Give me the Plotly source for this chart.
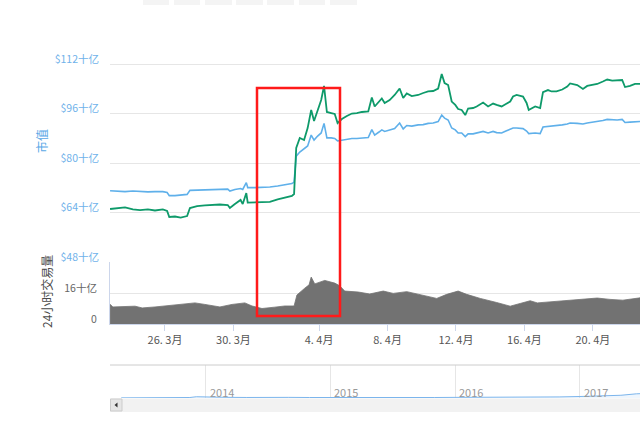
import plotly.graph_objects as go

# ---------------- data ----------------
times = [
    "2019-03-22 19:00", "2019-03-23 06:00", "2019-03-23 16:00", "2019-03-24 03:00", "2019-03-24 13:00",
    "2019-03-25 00:00", "2019-03-25 10:00", "2019-03-25 21:00", "2019-03-26 03:00", "2019-03-26 06:00",
    "2019-03-26 14:00", "2019-03-26 22:00", "2019-03-27 07:00", "2019-03-27 11:00", "2019-03-27 21:00",
    "2019-03-28 08:00", "2019-03-28 18:00", "2019-03-29 05:00", "2019-03-29 16:00", "2019-03-29 19:00",
    "2019-03-30 02:00", "2019-03-30 10:00", "2019-03-30 13:00", "2019-03-30 18:00", "2019-03-30 20:00",
    "2019-03-31 06:00", "2019-03-31 16:00", "2019-04-01 03:00", "2019-04-01 14:00", "2019-04-02 00:00",
    "2019-04-02 10:00", "2019-04-02 13:00", "2019-04-02 16:00", "2019-04-02 21:00", "2019-04-03 03:00",
    "2019-04-03 08:00", "2019-04-03 13:00", "2019-04-03 17:00", "2019-04-03 22:00", "2019-04-04 03:00",
    "2019-04-04 07:00", "2019-04-04 11:00", "2019-04-04 17:00", "2019-04-04 22:00", "2019-04-05 02:00",
    "2019-04-05 08:00", "2019-04-05 15:00", "2019-04-05 22:00", "2019-04-06 05:00", "2019-04-06 12:00",
    "2019-04-06 21:00", "2019-04-07 02:00", "2019-04-07 06:00", "2019-04-07 12:00", "2019-04-07 16:00",
    "2019-04-07 20:00", "2019-04-08 03:00", "2019-04-08 10:00", "2019-04-08 17:00", "2019-04-08 22:00",
    "2019-04-09 03:00", "2019-04-09 10:00", "2019-04-09 19:00", "2019-04-10 02:00", "2019-04-10 09:00",
    "2019-04-10 16:00", "2019-04-10 23:00", "2019-04-11 04:00", "2019-04-11 08:00", "2019-04-11 13:00",
    "2019-04-11 18:00", "2019-04-11 23:00", "2019-04-12 03:00", "2019-04-12 08:00", "2019-04-12 13:00",
    "2019-04-12 17:00", "2019-04-13 00:00", "2019-04-13 05:00", "2019-04-13 14:00", "2019-04-13 21:00",
    "2019-04-14 04:00", "2019-04-14 09:00", "2019-04-14 16:00", "2019-04-14 22:00", "2019-04-15 04:00",
    "2019-04-15 08:00", "2019-04-15 13:00", "2019-04-15 22:00", "2019-04-16 03:00", "2019-04-16 06:00",
    "2019-04-16 15:00", "2019-04-16 22:00", "2019-04-17 02:00", "2019-04-17 09:00", "2019-04-17 14:00",
    "2019-04-17 21:00", "2019-04-18 05:00", "2019-04-18 12:00", "2019-04-18 16:00", "2019-04-19 02:00",
    "2019-04-19 10:00", "2019-04-19 16:00", "2019-04-19 23:00", "2019-04-20 06:00", "2019-04-20 14:00",
    "2019-04-20 20:00", "2019-04-21 03:00", "2019-04-21 10:00", "2019-04-21 17:00", "2019-04-21 21:00",
    "2019-04-22 04:00", "2019-04-22 11:00", "2019-04-22 18:00",
]

# market cap, billions USD (blue, left axis)
market_cap = [
    71.1, 71.0, 70.8, 71.0, 70.8, 70.7, 70.8, 70.8, 70.5, 69.5,
    69.5, 69.7, 69.9, 71.2, 71.3, 71.3, 71.5, 71.5, 71.6, 71.0,
    71.5, 71.8, 71.5, 73.7, 72.1, 72.1, 72.1, 72.3, 72.6, 72.9,
    73.4, 73.9, 82.3, 83.6, 84.6, 85.6, 89.1, 87.5, 88.8, 89.8,
    92.9, 88.2, 88.2, 88.0, 87.2, 87.4, 87.8, 88.0, 88.0, 88.2,
    88.3, 90.9, 89.1, 90.1, 90.8, 90.3, 90.8, 91.2, 93.0, 91.1,
    92.2, 92.0, 92.4, 92.5, 92.9, 93.0, 93.5, 95.6, 94.6, 94.0,
    91.4, 90.8, 89.8, 89.8, 88.6, 89.5, 89.5, 89.8, 90.3, 89.8,
    90.3, 89.9, 89.8, 90.4, 91.1, 91.4, 91.4, 91.2, 90.4, 89.6,
    89.8, 89.6, 91.7, 91.9, 91.9, 92.0, 92.4, 92.7, 93.0, 92.9,
    92.7, 93.0, 93.2, 93.5, 93.8, 94.2, 94.0, 94.0, 94.2, 93.2,
    93.3, 93.5, 93.5,
]

# price USD (green, hidden right axis)
price_usd = [
    3958, 3968, 3974, 3953, 3947, 3953, 3942, 3953, 3937, 3874,
    3879, 3868, 3884, 3968, 3989, 3995, 4000, 4005, 4000, 3968,
    4010, 4053, 4010, 4126, 4026, 4026, 4026, 4032, 4058, 4074,
    4095, 4116, 4600, 4705, 4684, 4810, 5000, 4884, 5000, 5105,
    5253, 4979, 4968, 4958, 4863, 4905, 4937, 4963, 4968, 4979,
    4984, 5132, 5037, 5084, 5121, 5074, 5105, 5158, 5226, 5126,
    5174, 5147, 5158, 5179, 5195, 5200, 5226, 5379, 5284, 5263,
    5089, 5053, 5010, 5000, 4947, 5016, 5021, 5037, 5079, 5037,
    5068, 5053, 5037, 5063, 5089, 5142, 5158, 5142, 5074, 5000,
    5037, 5021, 5189, 5210, 5195, 5195, 5216, 5247, 5279, 5263,
    5221, 5253, 5263, 5274, 5300, 5321, 5310, 5310, 5316, 5242,
    5253, 5274, 5274,
]

vol_times = [
    "2019-03-22 19:00", "2019-03-22 23:00", "2019-03-24 06:00", "2019-03-24 16:00", "2019-03-25 10:00",
    "2019-03-26 10:00", "2019-03-27 04:00", "2019-03-27 18:00", "2019-03-28 08:00", "2019-03-29 05:00",
    "2019-03-29 22:00", "2019-03-30 16:00", "2019-03-31 02:00", "2019-03-31 16:00", "2019-04-01 10:00",
    "2019-04-02 00:00", "2019-04-02 13:00", "2019-04-02 17:00", "2019-04-03 04:00", "2019-04-03 10:00",
    "2019-04-03 13:00", "2019-04-03 18:00", "2019-04-04 08:00", "2019-04-04 22:00", "2019-04-05 05:00",
    "2019-04-05 12:00", "2019-04-06 07:00", "2019-04-06 23:00", "2019-04-07 18:00", "2019-04-08 08:00",
    "2019-04-09 03:00", "2019-04-09 17:00", "2019-04-10 21:00", "2019-04-11 11:00", "2019-04-12 03:00",
    "2019-04-12 15:00", "2019-04-13 10:00", "2019-04-14 09:00", "2019-04-15 04:00", "2019-04-15 18:00",
    "2019-04-16 08:00", "2019-04-16 18:00", "2019-04-17 21:00", "2019-04-19 02:00", "2019-04-20 06:00",
    "2019-04-21 00:00", "2019-04-21 18:00", "2019-04-22 18:00",
]
# 24h volume, billions USD
volume = [
    10.2, 8.8, 9.2, 8.3, 8.8,
    9.7, 10.6, 10.9, 10.1, 8.8,
    10.1, 10.9, 9.3, 8.0, 8.7,
    9.3, 9.3, 15.0, 18.5, 20.2,
    24.2, 20.7, 22.5, 21.1, 19.7,
    17.0, 16.5, 15.5, 17.0, 15.8,
    16.7, 15.5, 13.2, 15.3, 17.0,
    15.3, 13.2, 11.1, 9.2, 10.6,
    12.0, 10.9, 11.6, 12.7, 13.4,
    12.7, 12.3, 13.5,
]

x_tick_dates = ["2019-03-26", "2019-03-30", "2019-04-04", "2019-04-08", "2019-04-12", "2019-04-16", "2019-04-20"]
x_tick_text = ["26. 3月", "30. 3月", "4. 4月", "8. 4月", "12. 4月", "16. 4月", "20. 4月"]

cap_ticks = [48, 64, 80, 96, 112, 128]
cap_tick_text = ["$48十亿", "$64十亿", "$80十亿", "$96十亿", "$112十亿", ""]
vol_ticks = [0, 16, 32]
vol_tick_text = ["0", "16十亿", ""]

nav_dates = ["2013-04-28", "2013-06-01", "2013-08-01", "2013-10-01", "2013-11-15", "2013-12-04",
             "2014-01-01", "2014-03-01", "2014-05-01", "2014-07-01", "2014-09-01", "2014-11-01",
             "2015-01-01", "2015-03-01", "2015-05-01", "2015-07-01", "2015-09-01", "2015-11-01",
             "2016-01-01", "2016-03-01", "2016-05-01", "2016-07-01", "2016-09-01", "2016-11-01",
             "2017-01-01", "2017-03-01", "2017-05-01", "2017-06-15", "2017-08-01"]
nav_cap = [1.5, 1.4, 1.2, 1.6, 5, 13, 9, 7, 5.5, 8, 6.5, 5,
           4, 3.7, 3.3, 4, 3.4, 5, 6.5, 6.5, 7.5, 10, 9.5, 11,
           15.5, 19, 28, 43, 50]
nav_year_ticks = ["2014-01-01", "2015-01-01", "2016-01-01", "2017-01-01"]
nav_year_text = ["2014", "2015", "2016", "2017"]

# ---------------- layout helpers ----------------
W, H = 640, 421
ML, MR, MT, MB = 110, 0, 15, 9
PW, PH = W - ML - MR, H - MT - MB


def px(x):
    return (x - ML) / PW


def py(y):
    return (H - MB - y) / PH


FONT = "Noto Sans CJK SC, Noto Sans, sans-serif"
BLUE = "#5fb0ea"
GREEN = "#0e9a6a"
GRID = "#e6e6e6"
AXIS = "#ccd6eb"

fig = go.Figure()

fig.add_trace(go.Scatter(x=times, y=market_cap, mode="lines", xaxis="x", yaxis="y",
                         line=dict(color=BLUE, width=1.6), hoverinfo="skip"))
fig.add_trace(go.Scatter(x=times, y=price_usd, mode="lines", xaxis="x", yaxis="y3",
                         line=dict(color=GREEN, width=1.8), hoverinfo="skip"))
fig.add_trace(go.Scatter(x=vol_times, y=volume, mode="lines", xaxis="x", yaxis="y2",
                         line=dict(color="#727272", width=0.8), fill="tozeroy",
                         fillcolor="#727272", hoverinfo="skip"))
fig.add_trace(go.Scatter(x=nav_dates, y=nav_cap, mode="lines", xaxis="x2", yaxis="y4",
                         line=dict(color="#7cb5ec", width=1), fill="tozeroy",
                         fillcolor="rgba(124,181,236,0.12)", hoverinfo="skip"))

shapes = []
# range selector buttons (cut off at top)
for a, b in [(143, 169), (174, 200), (205, 232), (236, 263), (267, 294), (299, 325), (330, 357)]:
    shapes.append(dict(type="rect", xref="paper", yref="paper", x0=px(a), x1=px(b), y0=py(5), y1=py(-2),
                       fillcolor="#f4f4f4", line=dict(width=0), layer="above"))
# navigator top outline
shapes.append(dict(type="line", xref="paper", yref="paper", x0=0, x1=1, y0=py(365), y1=py(365),
                   line=dict(color="#cccccc", width=1)))
# scrollbar
shapes.append(dict(type="rect", xref="paper", yref="paper", x0=0, x1=1, y0=py(412), y1=py(398.5),
                   fillcolor="#f2f2f2", line=dict(width=0)))
shapes.append(dict(type="rect", xref="paper", yref="paper", x0=px(110.5), x1=px(122), y0=py(411), y1=py(399),
                   fillcolor="#e6e6e6", line=dict(color="#cccccc", width=1)))
shapes.append(dict(type="path", xref="paper", yref="paper",
                   path=f"M {px(114.5)} {py(405)} L {px(117.5)} {py(402.5)} L {px(117.5)} {py(407.5)} Z",
                   fillcolor="#333333", line=dict(width=0)))
# red highlight box
shapes.append(dict(type="rect", xref="paper", yref="paper", x0=px(257), x1=px(340), y0=py(316), y1=py(88),
                   line=dict(color="#ff1a1a", width=2.5), fillcolor="rgba(0,0,0,0)", layer="above"))

annotations = [
    dict(text="市值", xref="paper", yref="paper", x=px(42), y=py(141), showarrow=False,
         textangle=-90, font=dict(family=FONT, size=12, color="#5aa8e6"), xanchor="center", yanchor="middle"),
    dict(text="24小时交易量", xref="paper", yref="paper", x=px(46), y=py(292), showarrow=False,
         textangle=-90, font=dict(family=FONT, size=12, color="#4a4a4a"), xanchor="center", yanchor="middle"),
]
# navigator year labels
for d, t in zip(nav_year_ticks, nav_year_text):
    annotations.append(dict(text=t, xref="x2", yref="paper", x=d, y=py(392), showarrow=False,
                            xanchor="left", yanchor="middle", xshift=2,
                            font=dict(family=FONT, size=11, color="#999999")))

fig.update_layout(
    width=W, height=H,
    margin=dict(l=ML, r=MR, t=MT, b=MB, pad=0),
    paper_bgcolor="white", plot_bgcolor="white",
    showlegend=False, hovermode=False,
    font=dict(family=FONT, size=11, color="#666666"),
    shapes=shapes, annotations=annotations,
    xaxis=dict(type="date", domain=[0, 1], anchor="y2",
               range=["2019-03-22 18:54", "2019-04-22 18:00"],
               showgrid=False, zeroline=False,
               showline=True, linecolor=AXIS, linewidth=1,
               ticks="outside", ticklen=6, tickcolor=AXIS,
               tickvals=x_tick_dates, ticktext=x_tick_text,
               tickfont=dict(family=FONT, size=11, color="#555555")),
    yaxis=dict(domain=[py(262), py(15)], anchor="x", range=[48, 128],
               tickvals=cap_ticks, ticktext=cap_tick_text,
               showgrid=True, gridcolor=GRID, gridwidth=1, zeroline=False, showline=False,
               ticks="", ticklabelshift=-5, ticklabelstandoff=10,
               tickfont=dict(family=FONT, size=10.5, color="#6fb2ea")),
    yaxis3=dict(overlaying="y", anchor="x", range=[3400, 6000], visible=False),
    yaxis2=dict(domain=[py(324), py(262)], anchor="x", range=[0, 32],
                tickvals=vol_ticks, ticktext=vol_tick_text,
                showgrid=True, gridcolor=GRID, gridwidth=1, zeroline=False,
                showline=True, linecolor=AXIS, linewidth=1,
                ticks="", ticklabelshift=-5, ticklabelstandoff=10,
                tickfont=dict(family=FONT, size=10.5, color="#666666")),
    xaxis2=dict(type="date", domain=[0, 1], anchor="y4",
                range=["2013-03-26", "2017-06-26"],
                showgrid=True, gridcolor=GRID, zeroline=False, showline=False,
                ticks="", tickvals=nav_year_ticks, showticklabels=False),
    yaxis4=dict(domain=[py(398), py(365)], anchor="x2", range=[0, 340], visible=False,
                showgrid=False, zeroline=False),
)

fig.write_html("out.html", config={"displayModeBar": False, "staticPlot": True})
